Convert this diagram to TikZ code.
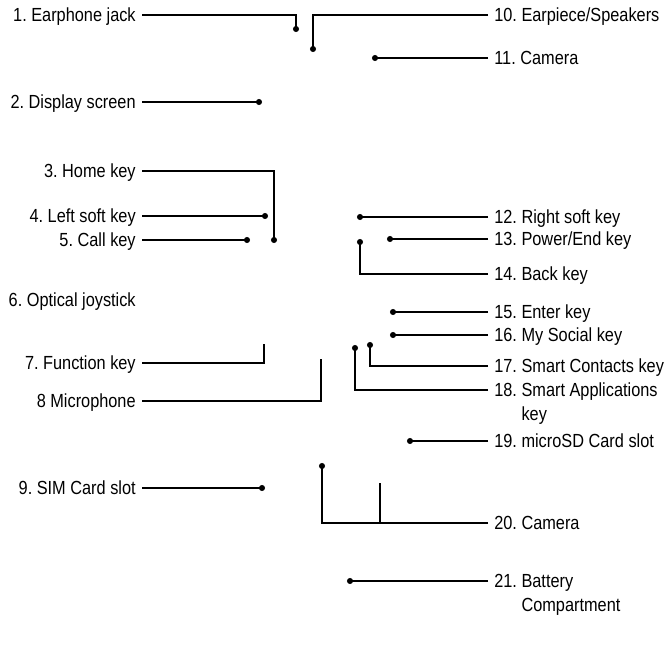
\documentclass[tikz,border=0pt]{standalone}
\usepackage{fontspec}
\setmainfont{Liberation Sans}[FakeStretch=0.86]
\usetikzlibrary{arrows.meta}
\tikzset{
  partlabel/.style={inner xsep=3.4pt,inner ysep=0pt,text height=7.7pt,text depth=0pt,font=\fontsize{10.8}{13.6}\selectfont\frenchspacing},
  leftlabel/.style={partlabel,anchor=east},
  rightlabel/.style={partlabel,anchor=west},
  leader/.style={draw=black,line width=0.85pt},
  leaderdot/.style={leader,-{Circle[length=3.4pt]},shorten >=-1.7pt}
}

\begin{document}
\begin{tikzpicture}[x=0.02cm,y=-0.02cm]
\useasboundingbox (0,0) rectangle (666,646);
\coordinate (p1) at (296,29);
\coordinate (p2) at (259,102);
\coordinate (p3) at (274,240);
\coordinate (p4) at (265,216);
\coordinate (p5) at (247,240);
\coordinate (p7) at (264,344);
\coordinate (p8) at (321,359);
\coordinate (p9) at (262,488);
\coordinate (p10) at (313,49);
\coordinate (p11) at (375,58);
\coordinate (p12) at (360,217);
\coordinate (p13) at (390,239);
\coordinate (p14) at (360,242);
\coordinate (p15) at (393,312);
\coordinate (p16) at (393,335);
\coordinate (p17) at (370,345);
\coordinate (p18) at (355,348);
\coordinate (p19) at (410,441);
\coordinate (p20) at (322,466);
\coordinate (p20b) at (380,483);
\coordinate (p21) at (350,581);

% left side
\node[leftlabel] (jack) at (142,15) {1. Earphone jack};
\node[leftlabel] (screen) at (142,102) {2. Display screen};
\node[leftlabel] (home) at (142,171) {3. Home key};
\node[leftlabel] (leftsoft) at (142,216) {4. Left soft key};
\node[leftlabel] (call) at (142,240) {5. Call key};
\node[leftlabel] (joystick) at (142,300) {6. Optical joystick};
\node[leftlabel] (function) at (142,363) {7. Function key};
\node[leftlabel] (mic) at (142,401) {8 Microphone};
\node[leftlabel] (sim) at (142,488) {9. SIM Card slot};

% right side
\node[rightlabel] (earpiece) at (488,15) {10. Earpiece/Speakers};
\node[rightlabel] (camfront) at (488,58) {11. Camera};
\node[rightlabel] (rightsoft) at (488,217) {12. Right soft key};
\node[rightlabel] (power) at (488,239) {13. Power/End key};
\node[rightlabel] (back) at (488,274) {14. Back key};
\node[rightlabel] (enter) at (488,312) {15. Enter key};
\node[rightlabel] (social) at (488,335) {16. My Social key};
\node[rightlabel] (contacts) at (488,366) {17. Smart Contacts key};
\node[rightlabel] (apps) at (488,390) {\vtop{\hbox{18. Smart Applications}\hbox{\phantom{18. }key}}};
\node[rightlabel] (microsd) at (488,441) {19. microSD Card slot};
\node[rightlabel] (camback) at (488,523) {20. Camera};
\node[rightlabel] (battery) at (488,581) {\vtop{\hbox{21. Battery}\hbox{\phantom{21. }Compartment}}};

\draw[leaderdot] (jack.east) -| (p1);
\draw[leaderdot] (screen.east) -- (p2);
\draw[leaderdot] (home.east) -| (p3);
\draw[leaderdot] (leftsoft.east) -- (p4);
\draw[leaderdot] (call.east) -- (p5);
\draw[leader] (function.east) -| (p7);
\draw[leader] (mic.east) -| (p8);
\draw[leaderdot] (sim.east) -- (p9);

\draw[leaderdot] (earpiece.west) -| (p10);
\draw[leaderdot] (camfront.west) -- (p11);
\draw[leaderdot] (rightsoft.west) -- (p12);
\draw[leaderdot] (power.west) -- (p13);
\draw[leaderdot] (back.west) -| (p14);
\draw[leaderdot] (enter.west) -- (p15);
\draw[leaderdot] (social.west) -- (p16);
\draw[leaderdot] (contacts.west) -| (p17);
\draw[leaderdot] (apps.west) -| (p18);
\draw[leaderdot] (microsd.west) -- (p19);
\draw[leaderdot] (camback.west) -| (p20);
\draw[leader] (p20b) -- (p20b |- camback.west);
\draw[leaderdot] (battery.west) -- (p21);
\end{tikzpicture}
\end{document}
